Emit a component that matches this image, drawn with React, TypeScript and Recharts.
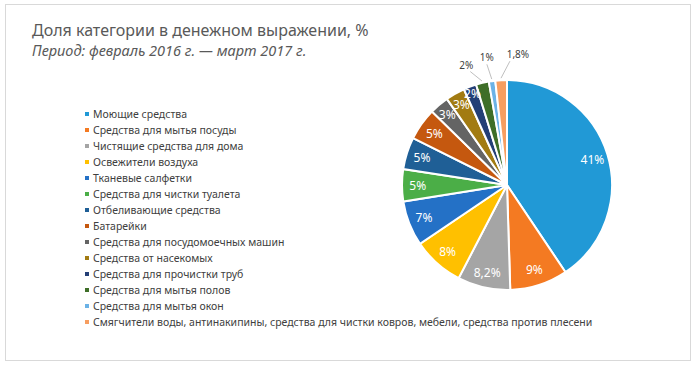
import React from "react";
import { PieChart, Pie, Cell } from "recharts";

const categories = [
  "Моющие средства",
  "Средства для мытья посуды",
  "Чистящие средства для дома",
  "Освежители воздуха",
  "Тканевые салфетки",
  "Средства для чистки туалета",
  "Отбеливающие средства",
  "Батарейки",
  "Средства для посудомоечных машин",
  "Средства от насекомых",
  "Средства для прочистки труб",
  "Средства для мытья полов",
  "Средства для мытья окон",
  "Смягчители воды, антинакипины, средства для чистки ковров, мебели, средства против плесени",
];
const values = [41, 9, 8.2, 8, 7, 5, 5, 5, 3, 3, 2, 2, 1, 1.8];
const labels = ["41%", "9%", "8,2%", "8%", "7%", "5%", "5%", "5%", "3%", "3%", "2%", "2%", "1%", "1,8%"];
const colors = [
  "#2199D6", "#F47A22", "#A5A5A5", "#FFC000", "#2471C6", "#4BAE47", "#1F5F96",
  "#C5580F", "#646464", "#A27B12", "#243F76", "#3E6E28", "#6BB2E6", "#F79E60",
];
const outside = [false, false, false, false, false, false, false, false, false, false, false, true, true, true];
// horizontal / vertical nudges of the outside labels (styling only)
const nudgeX = [0, 0, 0, 0, 0, 0, 0, 0, 0, 0, 0, -11, -2, 18];
const nudgeY = [0, 0, 0, 0, 0, 0, 0, 0, 0, 0, 0, 3, -2, -4];

const data = categories.map((name, i) => ({ name, value: values[i], label: labels[i] }));

const FONT = "'Noto Sans', 'Open Sans', sans-serif";
const RAD = Math.PI / 180;

const renderLabel = (props: any) => {
  const { cx, cy, midAngle, outerRadius, index, percent } = props;
  const cos = Math.cos(-midAngle * RAD);
  const sin = Math.sin(-midAngle * RAD);
  if (!outside[index]) {
    const f = percent < 0.025 ? 0.93 : percent < 0.04 ? 0.88 : 0.85;
    const r = outerRadius * f;
    return (
      <text
        x={cx + r * cos}
        y={cy + r * sin}
        fill="#ffffff"
        fontSize={12}
        fontFamily={FONT}
        textAnchor="middle"
        dominantBaseline="central"
      >
        {labels[index]}
      </text>
    );
  }
  const r1 = outerRadius + 2;
  const r3 = outerRadius + 22;
  const lx = cx + r3 * cos + nudgeX[index];
  const ly = cy + r3 * sin + nudgeY[index];
  const x1 = cx + r1 * cos;
  const y1 = cy + r1 * sin;
  const x2 = lx + (nudgeX[index] > 5 ? -8 : nudgeX[index] < -5 ? 4 : 0);
  const y2 = ly + 7;
  return (
    <g>
      <line x1={x1} y1={y1} x2={x2} y2={y2} stroke="#bfbfbf" strokeWidth={1} />
      <text
        x={lx}
        y={ly}
        fill="#404040"
        fontSize={10}
        fontFamily={FONT}
        textAnchor="middle"
        dominantBaseline="central"
      >
        {labels[index]}
      </text>
    </g>
  );
};

const LegendBlock = () => (
  <div style={{ position: "absolute", left: 85, top: 106, fontFamily: FONT, fontSize: 10.5, color: "#404040" }}>
    {categories.map((c, i) => (
      <div key={c} style={{ height: 16, lineHeight: "16px", display: "flex", alignItems: "center", whiteSpace: "nowrap" }}>
        <span style={{ display: "inline-block", width: 4, height: 4, background: colors[i], marginRight: 4 }} />
        <span>{c}</span>
      </div>
    ))}
  </div>
);

export default function App() {
  return (
    <div style={{ position: "absolute", left: 0, top: 0, width: 700, height: 367, background: "#fff" }}>
      <div
        style={{
          position: "absolute",
          left: 5,
          top: 4,
          width: 686,
          height: 357,
          border: "1px solid #d9d9d9",
          boxSizing: "border-box",
        }}
      />
      <div style={{ position: "absolute", left: 32, top: 19, fontFamily: FONT, fontSize: 16, color: "#595959", whiteSpace: "nowrap" }}>
        Доля категории в денежном выражении, %
      </div>
      <div style={{ position: "absolute", left: 32, top: 40, fontFamily: FONT, fontSize: 14.5, fontStyle: "italic", color: "#595959", whiteSpace: "nowrap" }}>
        Период: февраль 2016 г. — март 2017 г.
      </div>
      <LegendBlock />
      <div style={{ position: "absolute", left: 0, top: 0 }}>
        <PieChart width={700} height={367} margin={{ top: 0, right: 0, bottom: 0, left: 0 }}>
          <Pie
            data={data}
            dataKey="value"
            nameKey="name"
            cx={507}
            cy={185}
            outerRadius={105}
            startAngle={90}
            endAngle={-270}
            stroke="#ffffff"
            strokeWidth={2}
            label={renderLabel}
            labelLine={false}
            isAnimationActive={false}
          >
            {data.map((d, i) => (
              <Cell key={d.name} fill={colors[i]} />
            ))}
          </Pie>
        </PieChart>
      </div>
    </div>
  );
}
